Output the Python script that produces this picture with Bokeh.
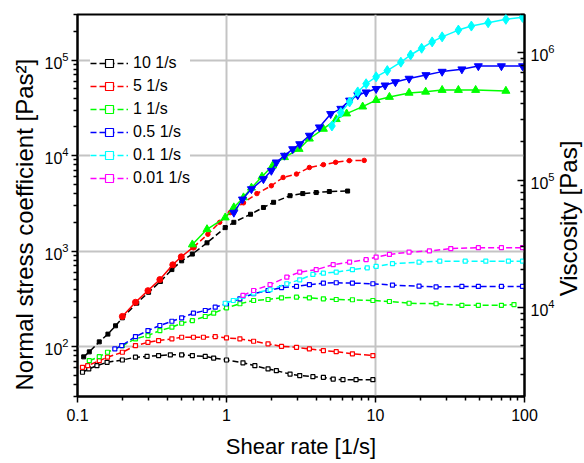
import math
from bokeh.plotting import figure
from bokeh.models import (Range1d, LogAxis, LogScale, FixedTicker, CustomJSTickFormatter,
                          Legend, LegendItem, Label, Title)
from bokeh.embed import file_html
from bokeh.resources import INLINE

# ---------------- data ----------------
# Normal stress coefficient (left axis), filled symbols
black_up_x = [0.11, 0.12, 0.14, 0.16, 0.18, 0.2, 0.25, 0.3, 0.36, 0.43, 0.5, 0.59, 0.74, 0.98,
              1.12, 1.45, 1.77, 2.07, 2.67, 3.25, 4.0, 4.9, 6.5]
black_up_y = [78, 88, 112, 135, 165, 200, 285, 370, 480, 640, 790, 930, 1220, 1760,
              2000, 2430, 2860, 3240, 3800, 4000, 4100, 4200, 4250]

red_up_x = [0.2, 0.245, 0.297, 0.357, 0.436, 0.497, 0.6, 0.75, 0.9, 1.06, 1.3, 1.6, 2.0, 2.4,
            2.95, 3.6, 4.47, 5.4, 6.67, 8.4]
red_up_y = [207, 291, 385, 503, 718, 871, 1100, 1500, 2000, 2530, 3200, 4000, 4830, 5900,
            6400, 7500, 8030, 8500, 8850, 8900]

green_up_x = [0.59, 0.74, 0.98, 1.12, 1.3, 1.47, 1.73, 2.04, 2.45, 3.07, 3.6, 4.47, 5.45, 6.4,
              8.2, 10.1, 12.4, 16.8, 21.7, 28, 36, 47, 75]
green_up_y = [1170, 1690, 2240, 2860, 3640, 4600, 6000, 7850, 9600, 11700, 15000, 19000, 24000,
              27500, 32500, 38000, 41000, 45300, 46500, 48500, 48500, 48500, 47500]

blue_up_x = [1.12, 1.28, 1.47, 1.77, 2.0, 2.16, 2.45, 2.78, 3.1, 3.6, 4.2, 5.0, 5.85, 6.7, 7.6,
             8.65, 10.1, 11.6, 13.6, 16.8, 21.8, 28, 38, 49, 70, 97]
blue_up_y = [2530, 3480, 4460, 5680, 6950, 8500, 10000, 11700, 13200, 16200, 19800, 27300,
             31000, 37800, 43000, 46000, 50000, 54400, 58900, 64000, 69800, 75700, 80200,
             86500, 86500, 86500]

cyan_up_x = [5.1, 5.85, 6.7, 7.6, 8.65, 10.1, 12, 14.8, 17.2, 20.4, 24, 28, 36, 44, 57, 75, 97]
cyan_up_y = [20400, 28200, 36400, 46400, 56500, 66800, 77600, 95000, 113000, 133000, 155000,
             175000, 206000, 227000, 246000, 267000, 280000]

# Viscosity (right axis), open symbols
black_lo_x = [0.108, 0.119, 0.135, 0.158, 0.2, 0.245, 0.293, 0.35, 0.42, 0.5, 0.59, 0.72, 0.82,
              1.0, 1.29, 1.55, 1.9, 2.16, 2.67, 3.1, 3.8, 4.47, 5.2, 6.05, 7.4, 9.6]
black_lo_y = [3100, 3290, 3490, 3710, 3870, 4070, 4130, 4190, 4250, 4250, 4190, 4130, 4010,
              3870, 3680, 3490, 3290, 3190, 3000, 2920, 2860, 2830, 2740, 2710, 2710, 2710]

red_lo_x = [0.108, 0.117, 0.14, 0.159, 0.2, 0.245, 0.297, 0.35, 0.43, 0.5, 0.6, 0.7, 0.84, 1.0,
            1.23, 1.52, 1.9, 2.34, 2.95, 3.6, 4.47, 5.45, 7.0, 9.6]
red_lo_y = [3390, 3490, 3820, 4070, 4450, 5020, 5330, 5500, 5670, 5840, 5840, 5840, 5910, 5770,
            5670, 5430, 5180, 4950, 4870, 4730, 4590, 4500, 4330, 4190]

green_lo_x = [0.12, 0.14, 0.159, 0.2, 0.245, 0.297, 0.357, 0.43, 0.5, 0.59, 0.72, 0.82, 1.0,
              1.23, 1.52, 1.9, 2.34, 2.95, 3.6, 4.47, 5.45, 7.0, 9.6, 12.4, 16.8, 25.5, 38,
              49, 70, 85]
green_lo_y = [3820, 4110, 4450, 5020, 5670, 6020, 6590, 7000, 7520, 7900, 8500, 9020, 9950,
              10700, 11350, 11560, 11920, 12050, 11920, 11700, 11560, 11500, 11350, 11150,
              10800, 10700, 10400, 10400, 10400, 10550]

blue_lo_x = [0.178, 0.198, 0.245, 0.297, 0.357, 0.43, 0.5, 0.6, 0.72, 0.84, 1.0, 1.23, 1.52,
             1.9, 2.34, 2.95, 3.6, 4.47, 5.45, 7.0, 9.6, 13, 19.6, 25.5, 38, 49, 70, 97]
blue_lo_y = [4730, 5020, 5910, 6590, 7220, 7800, 8290, 9020, 9470, 10060, 10700, 11700, 12820,
             13600, 14300, 14630, 15100, 15540, 15650, 15540, 15370, 15000, 14700, 14500,
             14630, 14630, 14630, 14630]

cyan_lo_x = [0.98, 1.11, 1.29, 1.52, 1.96, 2.54, 3.1, 3.8, 4.47, 5.45, 7.0, 8.8, 10.1, 13,
             19.6, 27, 40, 55, 78, 97]
cyan_lo_y = [10800, 11350, 12200, 12950, 13800, 15370, 16500, 18200, 18600, 18960, 19810,
             20500, 21000, 22070, 22700, 23130, 23130, 23130, 23130, 23130]

magenta_lo_x = [1.29, 1.52, 1.96, 2.54, 3.1, 4.0, 5.2, 6.7, 8.65, 10.1, 12.4, 16.8, 23, 32,
                49, 70, 97]
magenta_lo_y = [12430, 13600, 15100, 17310, 18960, 19810, 21700, 22730, 23750, 24900, 26100,
                27240, 27800, 29000, 29500, 29500, 29500]

legend_labels = ["10 1/s", "5 1/s", "1 1/s", "0.5 1/s", "0.1 1/s", "0.01 1/s"]
x_ticks = [0.1, 1, 10, 100]
left_ticks = [1e2, 1e3, 1e4, 1e5]
right_ticks = [1e4, 1e5, 1e6]
x_title = "Shear rate [1/s]"
left_title = "Normal stress coefficient [Pas\u00b2]"
right_title = "Viscosity [Pas]"

FONT = "Liberation Sans"
BLACK, RED, GREEN, BLUE, CYAN, MAGENTA = "#000000", "#ff0000", "#00ff00", "#0000ff", "#00ffff", "#ff00ff"

p = figure(width=584, height=463, x_axis_type="log", y_axis_type="log",
           x_range=Range1d(0.1, 100), y_range=Range1d(30, 3e5),
           output_backend="svg", toolbar_location=None,
           min_border_left=77, min_border_right=59, min_border_top=14, min_border_bottom=67)
p.extra_y_ranges = {"visc": Range1d(2e3, 2e6)}
p.extra_y_scales = {"visc": LogScale()}
p.background_fill_color = "white"
p.border_fill_color = "white"
p.outline_line_color = "black"
p.outline_line_width = 2


def minors(lo, hi):
    out = []
    for k in range(lo, hi + 1):
        for m in range(2, 10):
            out.append(m * 10.0 ** k)
    return out


# x axis
xa = p.xaxis[0]
xa.ticker = FixedTicker(ticks=x_ticks, minor_ticks=minors(-1, 1))
xa.formatter = CustomJSTickFormatter(code="return tick.toString();")
xa.axis_label = x_title

# left axis
ya = p.yaxis[0]
ya.ticker = FixedTicker(ticks=left_ticks, minor_ticks=minors(1, 5))

# right axis
ra = LogAxis(y_range_name="visc",
             ticker=FixedTicker(ticks=right_ticks, minor_ticks=minors(3, 6)))
p.add_layout(ra, "right")

for ax in (xa, ya, ra):
    ax.axis_line_width = 2
    ax.major_tick_line_width = 1.5
    ax.minor_tick_line_width = 1.5
    ax.major_label_text_font = FONT
    ax.major_label_text_font_size = "16px"
    ax.major_label_text_color = "black"
    ax.axis_label_text_font = FONT
    ax.axis_label_text_font_style = "normal"
    ax.axis_label_text_color = "black"

xa.major_tick_out, xa.major_tick_in, xa.minor_tick_out, xa.minor_tick_in = 6, 0, 4, 0
ya.major_tick_out, ya.major_tick_in, ya.minor_tick_out, ya.minor_tick_in = 6, 0, 4, 0
ra.major_tick_out, ra.major_tick_in, ra.minor_tick_out, ra.minor_tick_in = 0, 7, 0, 4
xa.major_label_standoff = 6
ya.major_label_standoff = 3
ra.major_label_standoff = 6
xa.axis_label_text_font_size = "22px"
xa.axis_label_standoff = 10

# left title (reads bottom to top), starts near the bottom of the frame
lt = Title(text=left_title, align="left", offset=6, standoff=8,
           text_font=FONT, text_font_size="24px", text_font_style="normal",
           text_color="black")
p.add_layout(lt, "left")

# right title, reading bottom to top, placed in the right panel (panel-relative screen units)
rt = Label(x=11, y=178, x_units="screen", y_units="screen", text=right_title,
           angle=math.pi / 2, text_align="center", text_baseline="middle",
           text_font=FONT, text_font_size="24px", text_color="black")
p.add_layout(rt, "right")

p.xgrid.ticker = FixedTicker(ticks=[1, 10])
p.ygrid.ticker = FixedTicker(ticks=left_ticks)
for g in (p.xgrid, p.ygrid):
    g.grid_line_color = "#c4c4c4"
    g.grid_line_width = 2

# ----- viscosity curves (right axis) -----
lo_series = [(black_lo_x, black_lo_y, BLACK), (red_lo_x, red_lo_y, RED),
             (green_lo_x, green_lo_y, GREEN), (blue_lo_x, blue_lo_y, BLUE),
             (cyan_lo_x, cyan_lo_y, CYAN), (magenta_lo_x, magenta_lo_y, MAGENTA)]
items = []
for (xs, ys, c), lab in zip(lo_series, legend_labels):
    ln = p.line(xs, ys, line_color=c, line_width=1.5, line_dash="6 3", y_range_name="visc")
    sc = p.scatter(xs, ys, marker="square", size=4, line_color=c, fill_color="white",
                   line_width=1.2, y_range_name="visc")
    items.append(LegendItem(label=lab, renderers=[ln, sc]))

# ----- normal stress curves (left axis) -----
p.line(black_up_x, black_up_y, line_color=BLACK, line_width=1.5, line_dash="6 3")
p.scatter(black_up_x, black_up_y, marker="square", size=4, line_color=BLACK, fill_color=BLACK)

p.line(red_up_x[:7], red_up_y[:7], line_color=RED, line_width=1.5)
p.scatter(red_up_x[:7], red_up_y[:7], marker="circle", size=6, line_color=RED, fill_color=RED)
p.line(red_up_x[6:], red_up_y[6:], line_color=RED, line_width=1.5, line_dash="6 3")
p.scatter(red_up_x[7:], red_up_y[7:], marker="circle", size=4.5, line_color=RED, fill_color=RED)

p.line(green_up_x, green_up_y, line_color=GREEN, line_width=1.5)
p.scatter(green_up_x, green_up_y, marker="triangle", size=8, line_color=GREEN, fill_color=GREEN)

p.line(blue_up_x, blue_up_y, line_color=BLUE, line_width=1.5)
p.scatter(blue_up_x, blue_up_y, marker="inverted_triangle", size=8, line_color=BLUE, fill_color=BLUE)

p.line(cyan_up_x, cyan_up_y, line_color=CYAN, line_width=1.5)
p.scatter(cyan_up_x, cyan_up_y, marker="diamond", size=10, line_color=CYAN, fill_color=CYAN)

legend = Legend(items=items, location=(13, 208))
legend.label_text_font = FONT
legend.label_text_font_size = "16px"
legend.label_text_color = "black"
legend.glyph_width = 38
legend.glyph_height = 20
legend.label_height = 20
legend.spacing = 3
legend.padding = 10
legend.margin = 0
legend.label_standoff = 5
legend.border_line_color = None
legend.background_fill_color = "white"
legend.background_fill_alpha = 1.0
p.add_layout(legend)

open("out.html", "w").write(file_html(p, INLINE))
